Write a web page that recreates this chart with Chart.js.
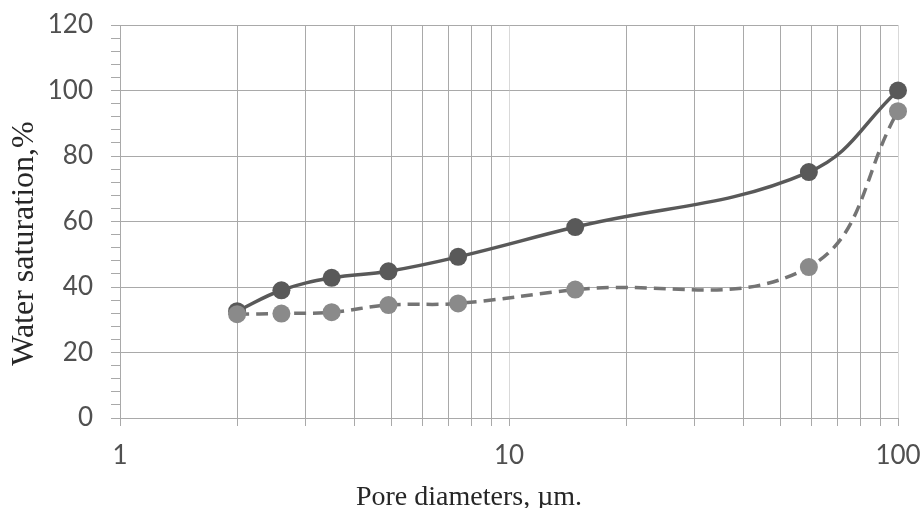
<!DOCTYPE html>
<html>
<head>
<meta charset="utf-8">
<script src="https://cdn.jsdelivr.net/npm/chart.js@4/dist/chart.umd.min.js"></script>
<style>
  html, body { margin: 0; padding: 0; background: #ffffff; }
  #wrap { width: 922px; height: 508px; }
</style>
</head>
<body>
<div id="wrap"><canvas id="chart" width="922" height="508"></canvas></div>
<script>
// Pore diameter (µm) against water saturation (%)
const poreDiameters = [2, 2.6, 3.5, 4.9, 7.4, 14.8, 59, 100];
const saturationSolid = [32.6, 39, 42.8, 44.8, 49.2, 58.3, 75.1, 100];
const saturationDashed = [31.7, 31.9, 32.3, 34.5, 35, 39.2, 46.1, 93.7];

// Logarithmic grid positions and the labelled decades
const xGridValues = [1, 2, 3, 4, 5, 6, 7, 8, 9, 10, 20, 30, 40, 50, 60, 70, 80, 90, 100];
const xLabelValues = [1, 10, 100];
const yLabelValues = [0, 20, 40, 60, 80, 100, 120];

const xTitle = 'Pore diameters, µm.';
const yTitle = 'Water saturation,%';

const GRID = '#a9a9a9';
const GRID_LIGHT = '#d9d9d9';
const TICK_TEXT = '#505050';

const toPoints = (xs, ys) => xs.map((x, i) => ({ x: x, y: ys[i] }));

// Axis titles drawn in a serif face
const axisTitles = {
  id: 'axisTitles',
  afterDraw(chart) {
    const { ctx, chartArea } = chart;
    ctx.save();
    ctx.fillStyle = '#262626';
    ctx.textAlign = 'center';
    ctx.textBaseline = 'alphabetic';
    ctx.font = '28px "Liberation Serif"';
    ctx.fillText(xTitle, (chartArea.left + chartArea.right) / 2 - 40, chart.height - 3);
    ctx.translate(33, (chartArea.top + chartArea.bottom) / 2 + 22);
    ctx.rotate(-Math.PI / 2);
    ctx.font = '32px "Liberation Serif"';
    ctx.fillText(yTitle, 0, 0);
    ctx.restore();
  }
};

new Chart(document.getElementById('chart'), {
  type: 'line',
  data: {
    datasets: [
      {
        data: toPoints(poreDiameters, saturationDashed),
        borderColor: '#747474',
        backgroundColor: '#8a8a8a',
        borderWidth: 3.5,
        borderDash: [12, 7],
        pointRadius: 9,
        pointBorderWidth: 0,
        pointBackgroundColor: '#8a8a8a',
        tension: 0.4,
        clip: false,
        fill: false
      },
      {
        data: toPoints(poreDiameters, saturationSolid),
        borderColor: '#595959',
        backgroundColor: '#595959',
        borderWidth: 3.5,
        pointRadius: 9,
        pointBorderWidth: 0,
        pointBackgroundColor: '#595959',
        tension: 0.4,
        clip: false,
        fill: false
      }
    ]
  },
  options: {
    responsive: false,
    animation: false,
    events: [],
    layout: { padding: { top: 25, right: 24, bottom: 0, left: 0 } },
    plugins: {
      legend: { display: false },
      tooltip: { enabled: false }
    },
    scales: {
      x: {
        type: 'logarithmic',
        min: 1,
        max: 100,
        afterBuildTicks(scale) {
          scale.ticks = xGridValues.map(v => ({ value: v }));
        },
        afterFit(scale) {
          scale.height = 90;
          scale.paddingLeft = 0;
          scale.paddingRight = 0;
        },
        grid: {
          color: ctx => (ctx.tick && (ctx.tick.value === 10 || ctx.tick.value === 100)) ? GRID_LIGHT : GRID,
          tickColor: GRID,
          lineWidth: 1,
          drawTicks: true,
          tickLength: 8
        },
        border: { color: GRID, width: 1 },
        ticks: {
          autoSkip: false,
          maxRotation: 0,
          padding: 14,
          color: TICK_TEXT,
          font: { family: 'Lato', size: 26 },
          callback: v => xLabelValues.includes(v) ? String(v) : ''
        }
      },
      y: {
        type: 'linear',
        min: 0,
        max: 120,
        afterFit(scale) {
          scale.width = 120;
          scale.paddingTop = 0;
          scale.paddingBottom = 0;
        },
        grid: {
          color: ctx => (ctx.tick && yLabelValues.includes(ctx.tick.value)) ? GRID : 'rgba(0,0,0,0)',
          tickColor: GRID,
          lineWidth: 1,
          drawTicks: true,
          tickLength: 9
        },
        border: { color: GRID, width: 1 },
        ticks: {
          stepSize: 4,
          autoSkip: false,
          padding: 18,
          color: TICK_TEXT,
          font: { family: 'Lato', size: 26 },
          callback: v => yLabelValues.includes(v) ? String(v) : ''
        }
      }
    }
  },
  plugins: [axisTitles]
});
</script>
</body>
</html>
